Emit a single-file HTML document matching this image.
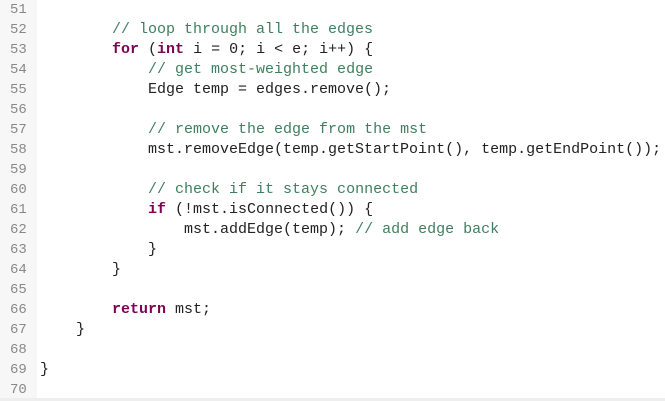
<!DOCTYPE html>
<html><head><style>
html,body{margin:0;padding:0;background:#fff;width:665px;height:401px;overflow:hidden}
.g{position:absolute;left:0;top:0;width:37px;height:398px;background:#f7f7f7}
.b{position:absolute;left:0;top:398px;width:665px;height:3px;background:#eee}
pre{position:absolute;margin:0;top:0;font-family:"Liberation Mono",monospace;font-size:15px;line-height:20px;color:#222}
.n{left:10px;color:#888;font-size:14px}
.c{left:40px}
.k{color:#7f0055;font-weight:bold}
.m{color:#3f7f5f}
</style></head><body>
<div class="g"></div><div class="b"></div>
<pre class="n">51
52
53
54
55
56
57
58
59
60
61
62
63
64
65
66
67
68
69
70</pre>
<pre class="c">

        <span class="m">// loop through all the edges</span>
        <span class="k">for</span> (<span class="k">int</span> i = 0; i &lt; e; i++) {
            <span class="m">// get most-weighted edge</span>
            Edge temp = edges.remove();

            <span class="m">// remove the edge from the mst</span>
            mst.removeEdge(temp.getStartPoint(), temp.getEndPoint());

            <span class="m">// check if it stays connected</span>
            <span class="k">if</span> (!mst.isConnected()) {
                mst.addEdge(temp); <span class="m">// add edge back</span>
            }
        }

        <span class="k">return</span> mst;
    }

}
</pre>
</body></html>
